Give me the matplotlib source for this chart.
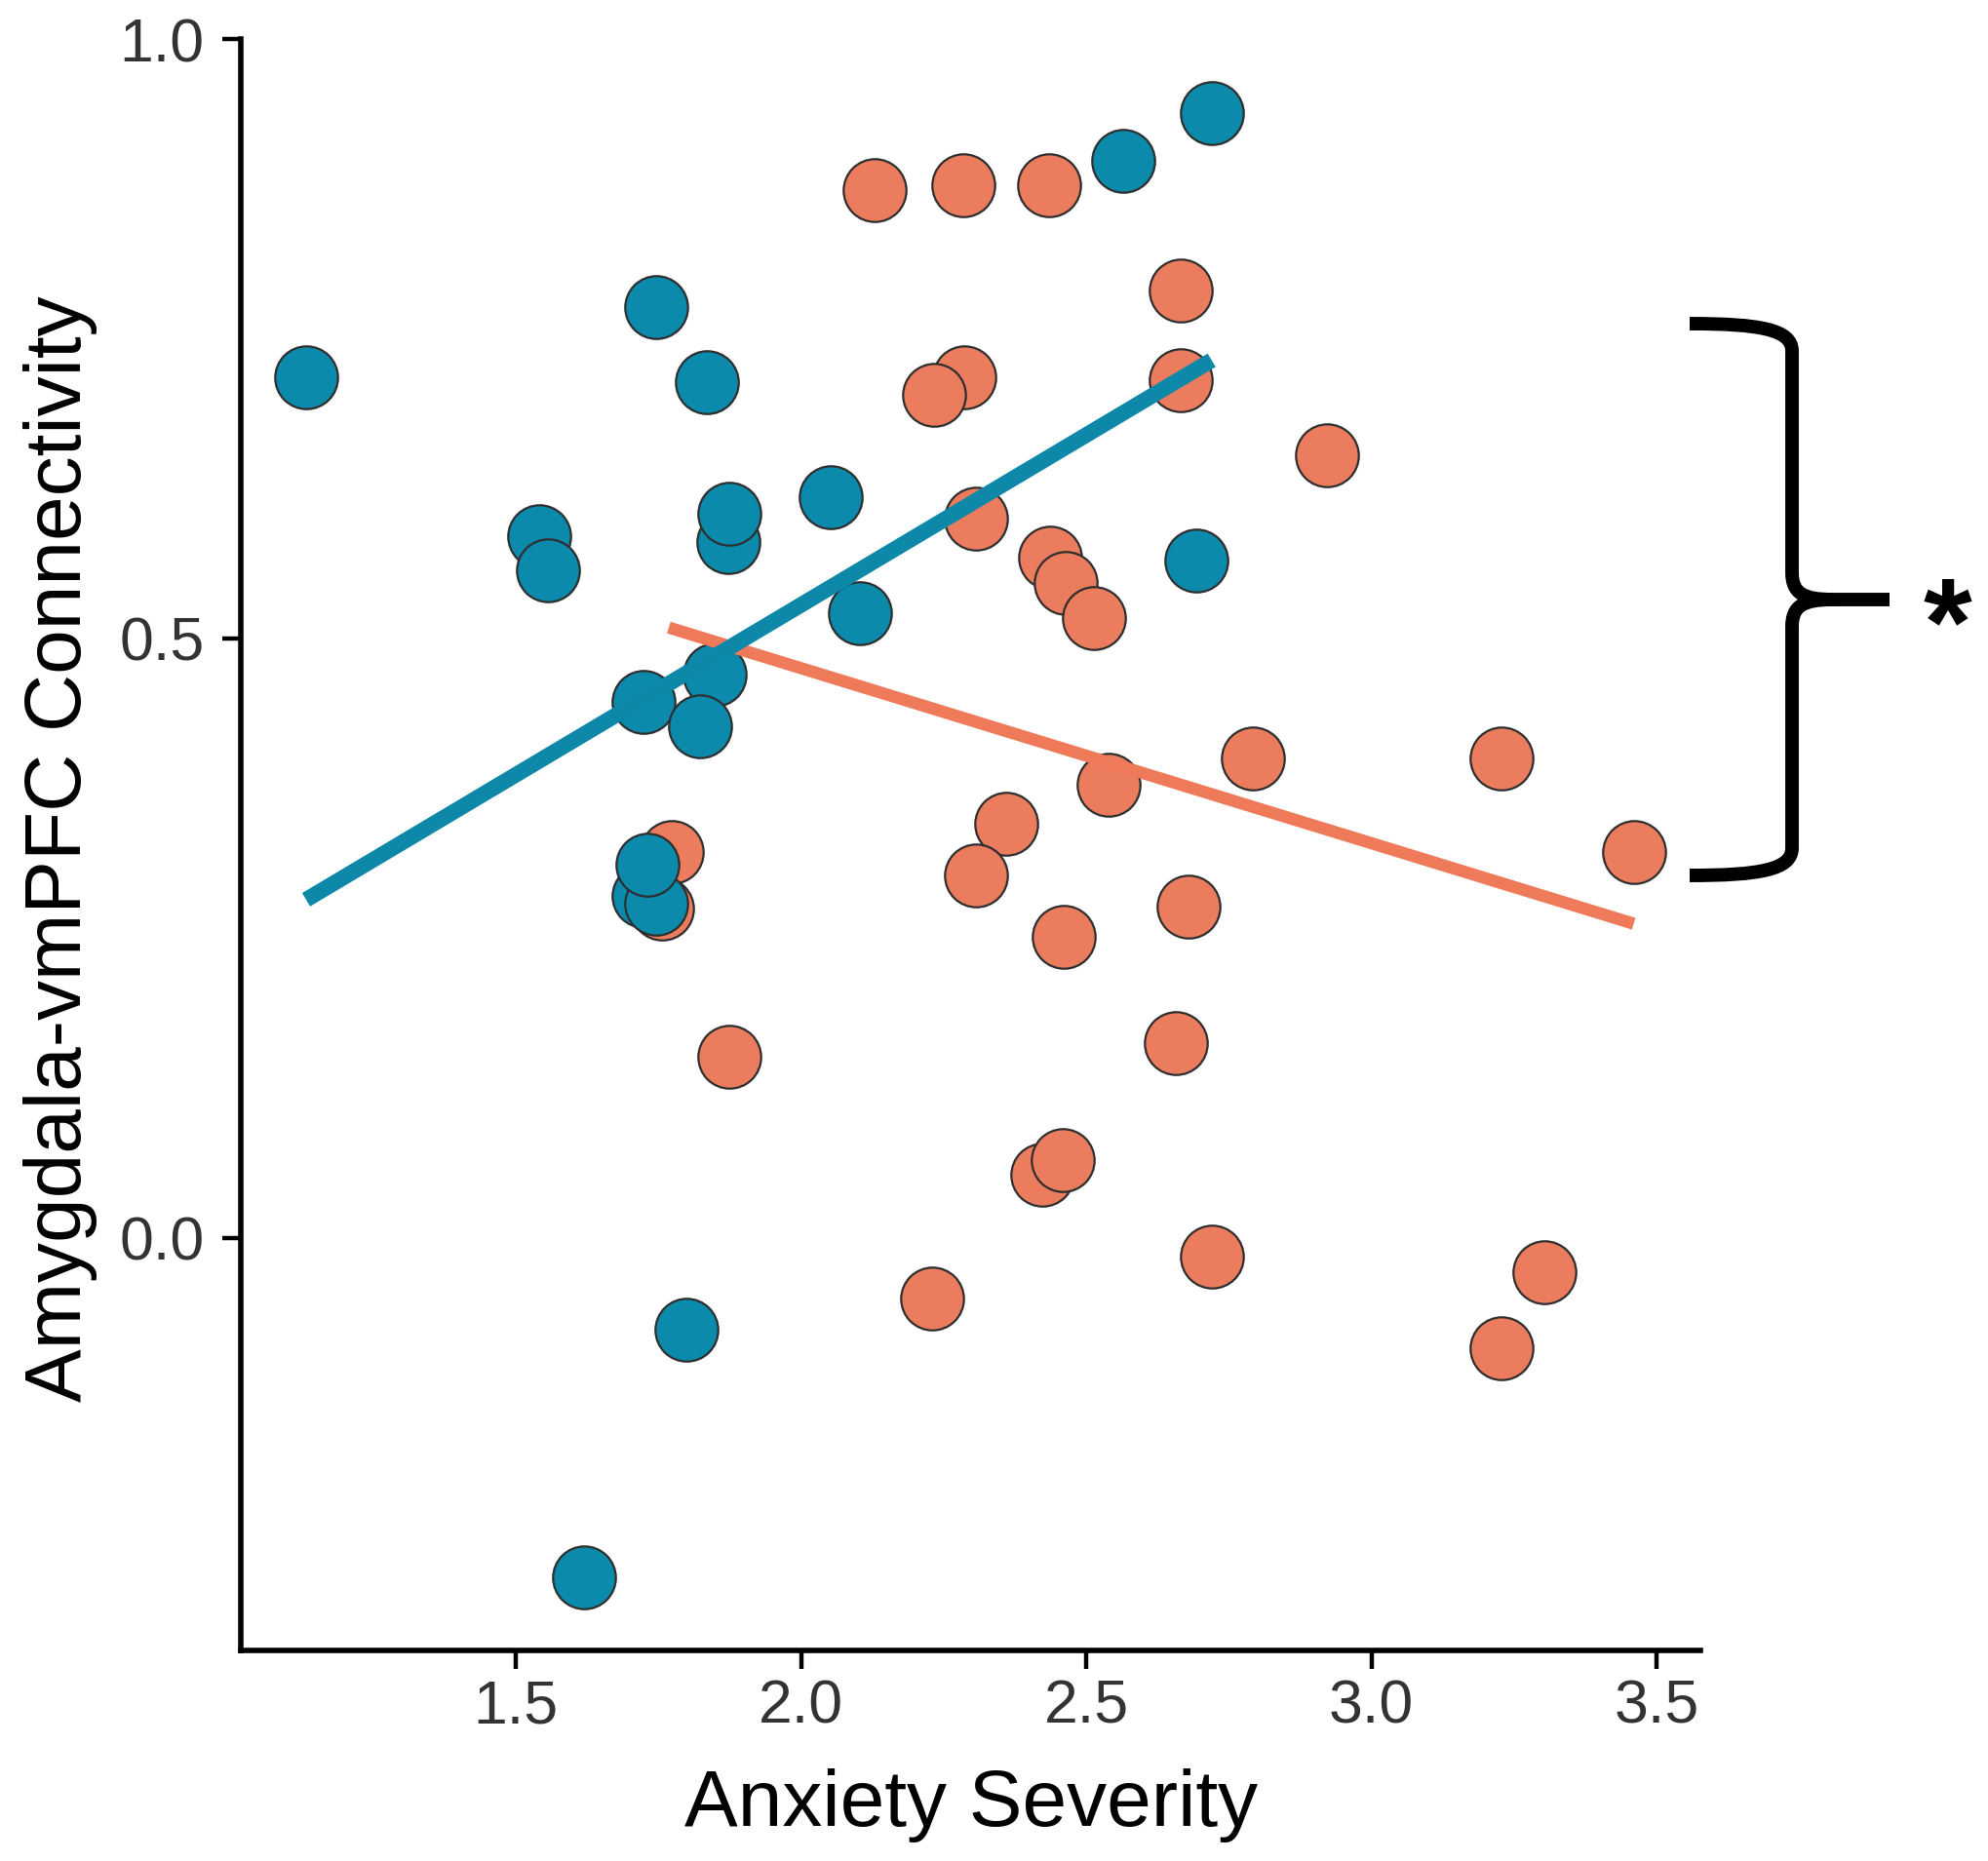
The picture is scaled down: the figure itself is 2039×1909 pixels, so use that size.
import matplotlib
matplotlib.use("Agg")
import matplotlib.pyplot as plt
from matplotlib.path import Path
from matplotlib.patches import PathPatch

# ---------------- data ----------------
blue_x = [1.132, 1.745, 1.834, 1.541, 1.556, 1.872, 1.874, 2.052, 2.103, 1.848,
          1.723, 1.823, 1.723, 1.745, 1.730, 1.799, 1.619, 2.564, 2.720, 2.693]
blue_y = [0.718, 0.776, 0.714, 0.585, 0.557, 0.580, 0.604, 0.618, 0.521, 0.470,
          0.447, 0.427, 0.285, 0.279, 0.311, -0.077, -0.283, 0.898, 0.938, 0.565]

orange_x = [2.128, 2.284, 2.435, 2.666, 2.286, 2.233, 2.666, 2.922, 2.306, 2.437,
            2.464, 2.513, 2.793, 3.229, 2.539, 2.359, 2.306, 3.460, 2.679, 2.461,
            2.657, 1.874, 2.423, 2.459, 2.720, 2.230, 3.304, 3.229, 1.774, 1.756]
orange_y = [0.874, 0.878, 0.878, 0.790, 0.718, 0.703, 0.715, 0.653, 0.600, 0.567,
            0.546, 0.517, 0.400, 0.400, 0.378, 0.345, 0.302, 0.322, 0.276, 0.251,
            0.162, 0.151, 0.053, 0.065, -0.016, -0.051, -0.029, -0.092, 0.322, 0.275]

blue_fit_x = [1.132, 2.720]
blue_fit_y = [0.282, 0.732]
orange_fit_x = [1.768, 3.460]
orange_fit_y = [0.509, 0.262]

x_ticks = [1.5, 2.0, 2.5, 3.0, 3.5]
x_ticklabels = ["1.5", "2.0", "2.5", "3.0", "3.5"]
y_ticks = [0.0, 0.5, 1.0]
y_ticklabels = ["0.0", "0.5", "1.0"]

x_title = "Anxiety Severity"
y_title = "Amygdala-vmPFC Connectivity"
sig_label = "*"

# ---------------- style ----------------
BLUE = "#0B8AAB"
ORANGE = "#EB7D5E"
EDGE = "#2E2E2E"
FONT = ["Liberation Sans", "DejaVu Sans"]
plt.rcParams["font.family"] = FONT

W, H = 2040, 1909
fig = plt.figure(figsize=(W / 100, H / 100), dpi=100)
fig.patch.set_facecolor("white")

left_px, right_px, top_px, bottom_px = 247.3, 1744.0, 40.0, 1692.7
ax = fig.add_axes([left_px / W, 1 - bottom_px / H,
                   (right_px - left_px) / W, (bottom_px - top_px) / H])

ax.scatter(orange_x, orange_y, s=2150, c=ORANGE, edgecolors=EDGE,
           linewidths=1.6, zorder=2, clip_on=False)
ax.scatter(blue_x, blue_y, s=2150, c=BLUE, edgecolors=EDGE,
           linewidths=1.6, zorder=3, clip_on=False)
ax.plot(orange_fit_x, orange_fit_y, color="#EE7A5A", lw=9.0,
        solid_capstyle="butt", zorder=4)
ax.plot(blue_fit_x, blue_fit_y, color="#0E88A8", lw=11.5,
        solid_capstyle="butt", zorder=5)

ax.set_xlim(1.018, 3.577)
ax.set_ylim(-0.344, 1.0)
ax.set_xticks(x_ticks)
ax.set_xticklabels(x_ticklabels)
ax.set_yticks(y_ticks)
ax.set_yticklabels(y_ticklabels)

for side in ("top", "right"):
    ax.spines[side].set_visible(False)
for side in ("left", "bottom"):
    ax.spines[side].set_linewidth(4.0)
    ax.spines[side].set_color("black")
    ax.spines[side].set_capstyle("projecting")

ax.tick_params(axis="both", direction="out", length=14, width=3.2,
               color="black", labelsize=45, labelcolor="#333333")
ax.tick_params(axis="x", pad=7)
ax.tick_params(axis="y", pad=13)

fig.text((left_px + right_px) / 2 / W, 1 - 1873 / H, x_title,
         ha="center", va="baseline", fontsize=59, color="black")
fig.text(62 / W, 1 - ((top_px + bottom_px) / 2 + 4) / H, y_title,
         rotation=90, ha="center", va="center", fontsize=59, color="black")

# ---------------- curly brace (figure pixel coords, y from top) ----------------
def P(x, y):
    return (x / W, 1 - y / H)

xl, xv, xt = 1733, 1838, 1938
yt, ym, yb = 332, 615, 898
verts = [
    P(xl, yt), P(1805, yt), P(xv, yt + 6), P(xv, yt + 28),      # top arm curve
    P(xv, ym - 28),                                             # upper vertical
    P(xv, ym - 6), P(1850, ym), P(1880, ym),                    # into cusp
    P(xt, ym),                                                  # tip
    P(1880, ym), P(1850, ym), P(xv, ym + 6), P(xv, ym + 28),     # out of cusp
    P(xv, yb - 28),                                             # lower vertical
    P(xv, yb - 6), P(1805, yb), P(xl, yb),                      # bottom arm curve
]
codes = [Path.MOVETO, Path.CURVE4, Path.CURVE4, Path.CURVE4,
         Path.LINETO,
         Path.CURVE4, Path.CURVE4, Path.CURVE4,
         Path.LINETO,
         Path.MOVETO, Path.CURVE4, Path.CURVE4, Path.CURVE4,
         Path.LINETO,
         Path.CURVE4, Path.CURVE4, Path.CURVE4]
brace = PathPatch(Path(verts, codes), transform=fig.transFigure,
                  facecolor="none", edgecolor="black", lw=10,
                  capstyle="butt", joinstyle="round")
fig.add_artist(brace)

fig.text(1997 / W, 1 - 681 / H, sig_label, ha="center", va="baseline",
         fontsize=92, fontweight="bold", color="black")

fig.savefig("out.png", dpi=100, facecolor="white")
